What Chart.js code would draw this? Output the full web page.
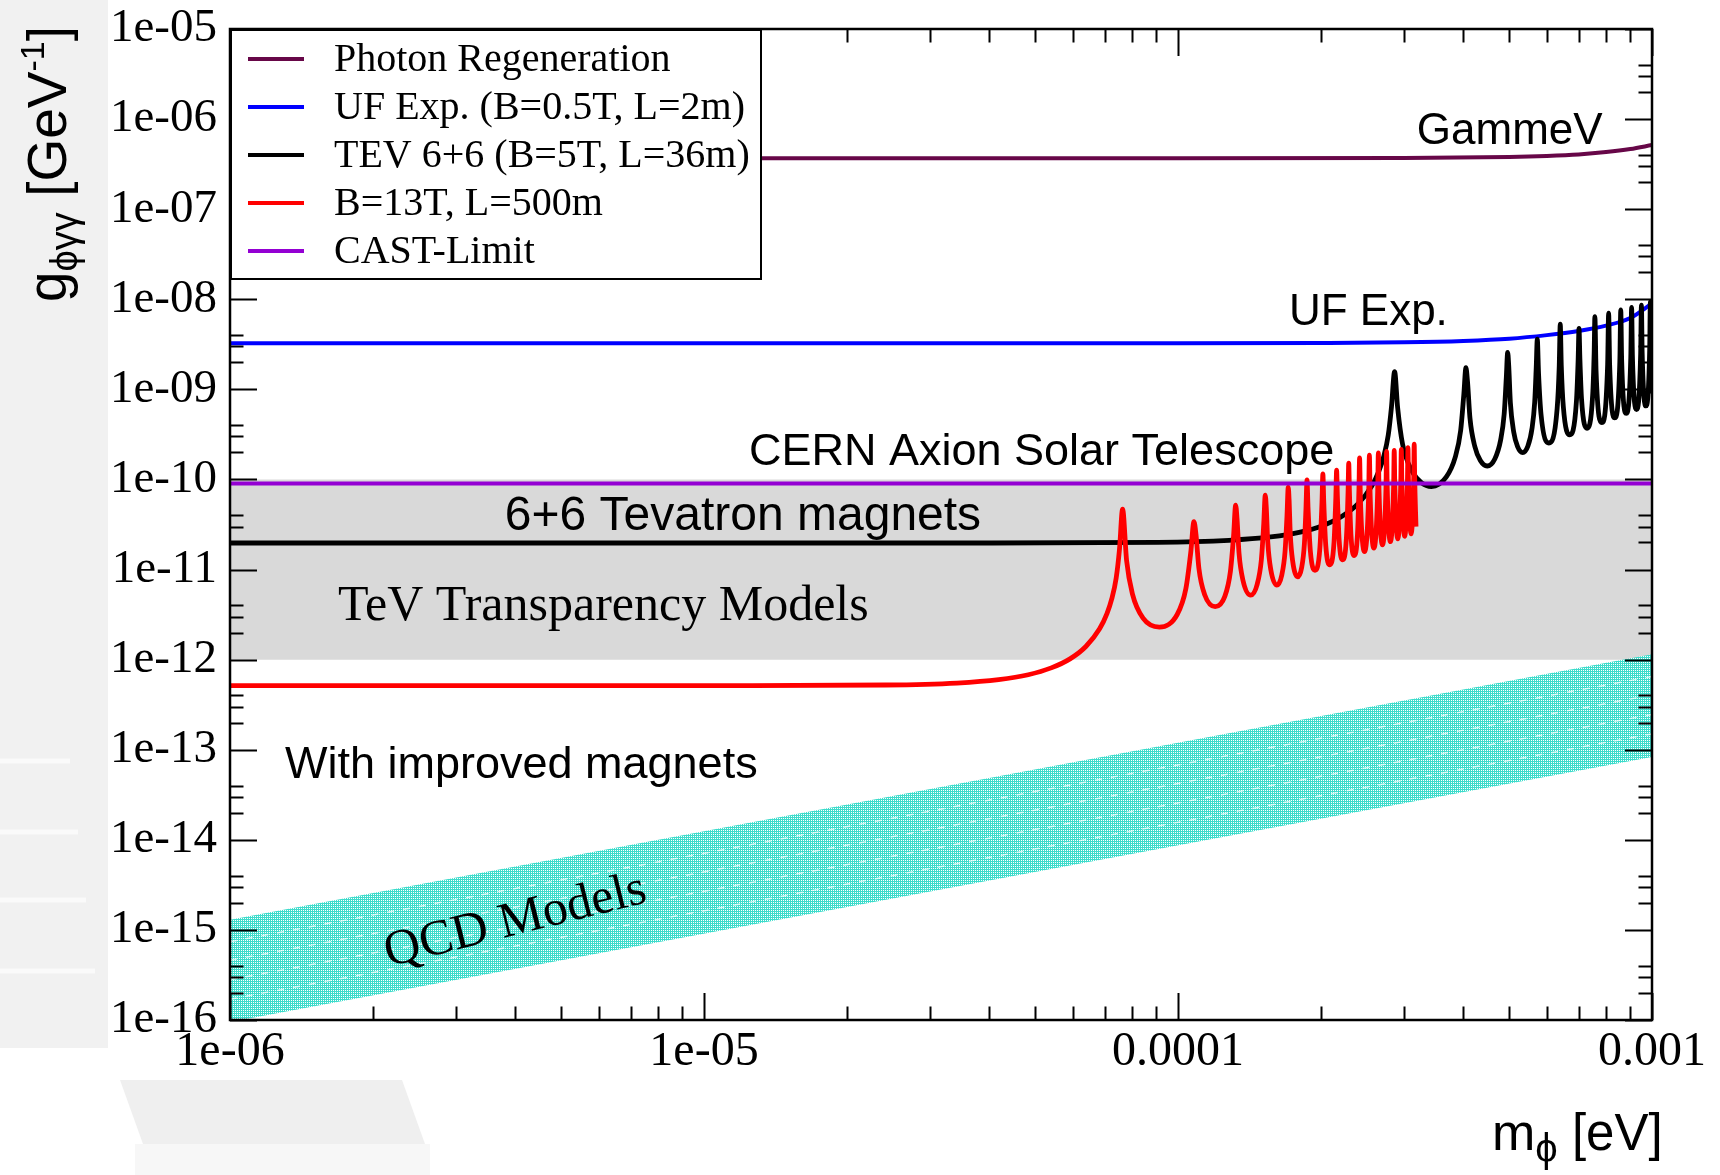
<!DOCTYPE html>
<html>
<head>
<meta charset="utf-8">
<style>
  html, body { margin: 0; padding: 0; background: #fff; }
  #wrap { width: 1720px; height: 1175px; }
</style>
<script src="https://cdn.jsdelivr.net/npm/chart.js@4.4.1/dist/chart.umd.min.js"></script>
</head>
<body>
<div id="wrap"><canvas id="chart" width="1720" height="1175"></canvas></div>
<script>
// Axis ranges and tick labels
const xRange = [1e-6, 1e-3];
const yRange = [1e-16, 1e-5];
const xTicks = [1e-6, 1e-5, 1e-4, 1e-3];
const xTickLabels = ['1e-06', '1e-05', '0.0001', '0.001'];
const xMinorSteps = [2, 3, 4, 5, 6, 7, 8, 9];
const yTicks = [1e-16, 1e-15, 1e-14, 1e-13, 1e-12, 1e-11, 1e-10, 1e-9, 1e-8, 1e-7, 1e-6, 1e-5];
const yTickLabels = ['1e-16', '1e-15', '1e-14', '1e-13', '1e-12', '1e-11', '1e-10', '1e-09', '1e-08', '1e-07', '1e-06', '1e-05'];
const yMinorSteps = [2, 3, 4];

// Photon Regeneration (GammeV)
const photonMass = [1e-6, 1e-4, 3e-4, 5e-4, 6e-4, 7e-4, 8e-4, 9e-4, 1e-3];
const photonCoupling = [3.67e-7, 3.67e-7, 3.7e-7, 3.8e-7, 3.9e-7, 4.05e-7, 4.3e-7, 4.65e-7, 5.15e-7];

// UF Exp. (B=0.5T, L=2m)
const ufMass = [1e-6, 1e-4, 2e-4, 3e-4, 4e-4, 5e-4, 6e-4, 7e-4, 8e-4, 9e-4, 1e-3];
const ufCoupling = [3.24e-9, 3.24e-9, 3.27e-9, 3.33e-9, 3.45e-9, 3.65e-9, 4.0e-9, 4.45e-9, 5.1e-9, 6.2e-9, 9.0e-9];

// TEV 6+6 (B=5T, L=36m)
const tevMass = [
  1e-6, 4.05e-5, 9.057e-5, 1.2808e-4, 1.5687e-4, 1.8114e-4, 2.0252e-4, 2.2185e-4, 2.3962e-4, 2.5616e-4,
  2.656e-4, 2.717e-4, 2.7768e-4, 2.8207e-4, 2.864e-4,
  2.9067e-4, 2.9763e-4, 3.1111e-4, 3.2655e-4, 3.4253e-4, 3.6788e-4, 3.8423e-4, 3.9477e-4, 4.0096e-4, 4.05e-4,
  4.0806e-4, 4.1305e-4, 4.2287e-4, 4.3435e-4, 4.491e-4, 4.6623e-4, 4.7923e-4, 4.8771e-4, 4.9275e-4, 4.9607e-4,
  4.9854e-4, 5.0263e-4, 5.1074e-4, 5.2027e-4, 5.3356e-4, 5.4717e-4, 5.5831e-4, 5.6559e-4, 5.6994e-4, 5.728e-4,
  5.7638e-4, 5.8345e-4, 6.0602e-4, 6.3074e-4, 6.3721e-4, 6.404e-4,
  6.436e-4, 6.4996e-4, 6.7055e-4, 6.9272e-4, 6.9862e-4, 7.015e-4,
  7.0446e-4, 7.1024e-4, 7.2932e-4, 7.4959e-4, 7.5504e-4, 7.577e-4,
  7.6205e-4, 7.8365e-4, 8.0599e-4, 8.1006e-4,
  8.141e-4, 8.3443e-4, 8.5536e-4, 8.592e-4,
  8.6301e-4, 8.8226e-4, 9.0205e-4, 9.057e-4,
  9.0929e-4, 9.2762e-4, 9.4641e-4, 9.499e-4,
  9.5334e-4, 9.7087e-4, 9.888e-4, 9.921e-4,
  9.9541e-4, 1e-3
];
const tevCoupling = [
  1.97e-11, 1.97e-11, 2.0e-11, 2.11e-11, 2.3e-11, 2.6e-11, 3.09e-11, 3.9e-11, 5.35e-11, 8.42e-11,
  1.25e-10, 1.8e-10, 3.1e-10, 6.38e-10, 1.57e-9,
  6.24e-10, 2.48e-10, 1.26e-10, 9.16e-11, 8.35e-11, 1.06e-10, 1.75e-10, 3.5e-10, 8.92e-10, 1.74e-9,
  1.23e-9, 4.77e-10, 2.32e-10, 1.62e-10, 1.41e-10, 1.7e-10, 2.72e-10, 5.35e-10, 1.35e-9, 2.58e-9,
  1.84e-9, 7.06e-10, 3.38e-10, 2.33e-10, 1.99e-10, 2.34e-10, 3.69e-10, 7.19e-10, 1.8e-9, 3.6e-9,
  1.48e-9, 5.21e-10, 2.54e-10, 6.09e-10, 1.8e-9, 5.3e-9,
  1.84e-9, 6.47e-10, 3.13e-10, 7.35e-10, 2.17e-9, 4.76e-9,
  2.2e-9, 7.72e-10, 3.7e-10, 8.6e-10, 2.53e-9, 6.4e-9,
  1.62e-9, 4.27e-10, 1.82e-9, 7.0e-9,
  1.85e-9, 4.84e-10, 2.04e-9, 7.6e-9,
  2.08e-9, 5.41e-10, 2.27e-9, 8.1e-9,
  2.31e-9, 5.98e-10, 2.5e-9, 8.6e-9,
  2.54e-9, 6.55e-10, 2.73e-9, 9.4e-9,
  2.77e-9, 9e-10
];

// B=13T, L=500m
const bigMass = [
  1e-6, 1.08e-5, 2.416e-5, 3.417e-5, 4.185e-5, 4.832e-5, 5.402e-5, 5.918e-5, 6.392e-5, 6.833e-5,
  7.085e-5, 7.248e-5, 7.407e-5, 7.525e-5, 7.64e-5,
  7.791e-5, 8.013e-5, 8.438e-5, 9.137e-5, 9.961e-5, 1.0391e-4, 1.0641e-4, 1.0805e-4,
  1.0912e-4, 1.1071e-4, 1.1384e-4, 1.198e-4, 1.2554e-4, 1.2898e-4, 1.31e-4, 1.3233e-4,
  1.3321e-4, 1.3452e-4, 1.3709e-4, 1.4233e-4, 1.4696e-4, 1.4991e-4, 1.5165e-4, 1.528e-4,
  1.5356e-4, 1.5469e-4, 1.5695e-4, 1.6166e-4, 1.6563e-4, 1.6825e-4, 1.6981e-4, 1.7084e-4,
  1.7152e-4, 1.7253e-4, 1.7455e-4, 1.7888e-4, 1.824e-4, 1.8479e-4, 1.862e-4, 1.8714e-4,
  1.8807e-4, 1.9024e-4, 1.9455e-4, 1.9923e-4, 2.0127e-4, 2.0214e-4,
  2.03e-4, 2.05e-4, 2.0905e-4, 2.1337e-4, 2.1528e-4, 2.1609e-4,
  2.169e-4, 2.1878e-4, 2.2259e-4, 2.2664e-4, 2.2844e-4, 2.292e-4,
  2.2996e-4, 2.3174e-4, 2.3535e-4, 2.3917e-4, 2.4087e-4, 2.416e-4,
  2.4256e-4, 2.4745e-4, 2.5246e-4, 2.5339e-4,
  2.5431e-4, 2.5899e-4, 2.6377e-4, 2.6466e-4,
  2.6554e-4, 2.7003e-4, 2.7461e-4, 2.7547e-4,
  2.7631e-4, 2.8063e-4, 2.8505e-4, 2.8586e-4,
  2.8668e-4, 2.9085e-4, 2.951e-4, 2.959e-4,
  2.9668e-4, 3.0073e-4, 3.0484e-4, 3.056e-4,
  3.0636e-4, 3.1028e-4, 3.1426e-4, 3.15e-4,
  3.1575e-4, 3.1777e-4
];
const bigCoupling = [
  5.15e-13, 5.15e-13, 5.23e-13, 5.5e-13, 6.0e-13, 6.8e-13, 8.1e-13, 1.02e-12, 1.4e-12, 2.2e-12,
  3.27e-12, 4.72e-12, 8.1e-12, 1.67e-11, 4.67e-11,
  1.25e-11, 5.37e-12, 2.89e-12, 2.3e-12, 3.17e-12, 6.15e-12, 1.56e-11, 3.4e-11,
  2.46e-11, 1.02e-11, 5.25e-12, 3.87e-12, 5.03e-12, 9.47e-12, 2.37e-11, 5.2e-11,
  3.66e-11, 1.51e-11, 7.62e-12, 5.2e-12, 6.9e-12, 1.28e-11, 3.17e-11, 6.7e-11,
  4.86e-11, 2.0e-11, 9.98e-12, 6.7e-12, 8.76e-12, 1.61e-11, 3.98e-11, 8.2e-11,
  6.07e-11, 2.49e-11, 1.24e-11, 8.3e-12, 1.06e-11, 1.94e-11, 4.78e-11, 9.86e-11,
  4.88e-11, 1.59e-11, 9.8e-12, 1.74e-11, 5.59e-11, 1.15e-10,
  5.68e-11, 1.85e-11, 1.13e-11, 2.0e-11, 6.39e-11, 1.27e-10,
  6.49e-11, 2.1e-11, 1.28e-11, 2.26e-11, 7.19e-11, 1.52e-10,
  7.29e-11, 2.36e-11, 1.43e-11, 2.51e-11, 8.0e-11, 1.74e-10,
  6.11e-11, 1.58e-11, 6.62e-11, 1.86e-10,
  6.72e-11, 1.73e-11, 7.23e-11, 1.97e-10,
  7.33e-11, 1.88e-11, 7.83e-11, 2.05e-10,
  7.93e-11, 2.04e-11, 8.44e-11, 2.1e-10,
  8.54e-11, 2.19e-11, 9.05e-11, 2.15e-10,
  9.14e-11, 2.34e-11, 9.65e-11, 2.25e-10,
  9.75e-11, 2.49e-11, 1.03e-10, 2.46e-10,
  1.04e-10, 3.0e-11
];

// CAST-Limit
const castMass = [1e-6, 1e-3];
const castCoupling = [9e-11, 9e-11];

// TeV transparency band and QCD models band
const bandMass = [1e-6, 1e-3];
const transparencyLow = [1e-12, 1e-12];
const transparencyHigh = [1e-10, 1e-10];
const qcdLow = [9.5e-17, 8.3e-14];
const qcdHigh = [1.3e-15, 1.15e-12];
// faint white hatching streaks inside the QCD band (start, end)
const qcdStreaks = [[1.7e-16, 1.5e-13], [2.8e-16, 2.46e-13], [4.6e-16, 4.05e-13], [7.4e-16, 6.5e-13]];

const SANS = '"Liberation Sans", Arial, sans-serif';
const SERIF = '"Liberation Serif", "Times New Roman", serif';

// text placed on the plot, anchored in data coordinates
const notes = [
  { text: 'GammeV', m: 3.19e-4, g: 7.26e-7, font: '44px ' + SANS },
  { text: 'UF Exp.', m: 1.714e-4, g: 7.1e-9, font: '44px ' + SANS },
  { text: 'CERN Axion Solar Telescope', m: 1.244e-5, g: 1.97e-10, font: '45px ' + SANS },
  { text: '6+6 Tevatron magnets', m: 3.8e-6, g: 3.86e-11, font: '48px ' + SANS },
  { text: 'TeV Transparency Models', m: 1.69e-6, g: 3.88e-12, font: '50px ' + SERIF },
  { text: 'With improved magnets', m: 1.306e-6, g: 6.67e-14, font: '45px ' + SANS },
  { text: 'QCD Models', m: 4.0e-6, g: 1.24e-15, font: '50px ' + SERIF, align: 'center', angle: -14 }
];

const pts = (xs, ys) => xs.map((m, i) => ({ x: m, y: ys[i] }));

const lineSet = (label, color, xs, ys, order, width) => ({
  label,
  data: pts(xs, ys),
  borderColor: color,
  backgroundColor: color,
  borderWidth: width || 4,
  borderJoinStyle: 'round',
  cubicInterpolationMode: 'monotone',
  pointRadius: 0,
  fill: false,
  order
});

const canvas = document.getElementById('chart');
const ctx = canvas.getContext('2d');

// dithered turquoise like the original print
const tile = document.createElement('canvas');
tile.width = 2; tile.height = 2;
const tctx = tile.getContext('2d');
tctx.fillStyle = '#3ddccb'; tctx.fillRect(0, 0, 2, 2);
tctx.fillStyle = '#ffffff'; tctx.fillRect(1, 0, 1, 1);
const qcdFill = ctx.createPattern(tile, 'repeat');

const datasets = [
  lineSet('Photon Regeneration', '#670748', photonMass, photonCoupling, 4),
  lineSet('UF Exp. (B=0.5T, L=2m)', '#0000ff', ufMass, ufCoupling, 3),
  lineSet('TEV 6+6 (B=5T, L=36m)', '#000000', tevMass, tevCoupling, 2, 4.8),
  lineSet('B=13T, L=500m', '#ff0000', bigMass, bigCoupling, 1, 4.8),
  lineSet('CAST-Limit', '#9400d3', castMass, castCoupling, 0),
  { data: pts(bandMass, transparencyLow), borderWidth: 0, pointRadius: 0, fill: false, order: 9 },
  { data: pts(bandMass, transparencyHigh), borderWidth: 0, pointRadius: 0, fill: 5, backgroundColor: '#d9d9d9', order: 8 },
  { data: pts(bandMass, qcdLow), borderWidth: 0, pointRadius: 0, fill: false, order: 7 },
  { data: pts(bandMass, qcdHigh), borderWidth: 0, pointRadius: 0, fill: 7, backgroundColor: qcdFill, order: 6 }
];
qcdStreaks.forEach(s => datasets.push({
  data: pts(bandMass, s),
  borderColor: 'rgba(255,255,255,0.7)',
  borderWidth: 1.5,
  borderDash: [7, 9],
  pointRadius: 0,
  fill: false,
  order: 5
}));

const backdrop = {
  id: 'backdrop',
  beforeDraw(chart) {
    const c = chart.ctx;
    c.save();
    c.fillStyle = '#ffffff';
    c.fillRect(0, 0, chart.width, chart.height);
    // faint slide background behind the y title
    c.fillStyle = '#f1f1f1';
    c.fillRect(0, 0, 108, 1048);
    c.strokeStyle = '#fafafa';
    c.lineWidth = 5;
    c.beginPath();
    [[761, 70], [832, 78], [900, 86], [971, 95]].forEach(([yy, len]) => {
      c.moveTo(0, yy); c.lineTo(len, yy);
    });
    c.stroke();
    c.fillStyle = '#efefef';
    c.beginPath();
    c.moveTo(120, 1080); c.lineTo(402, 1080); c.lineTo(425, 1144); c.lineTo(143, 1144);
    c.closePath();
    c.fill();
    c.fillStyle = '#f7f7f7';
    c.fillRect(135, 1144, 295, 31);
    c.restore();
  }
};

const overlay = {
  id: 'overlay',
  afterDatasetsDraw(chart) {
    const c = chart.ctx;
    const a = chart.chartArea;
    const x = chart.scales.x;
    const y = chart.scales.y;
    c.save();

    // annotations
    c.fillStyle = '#000';
    notes.forEach(n => {
      const px = x.getPixelForValue(n.m);
      const py = y.getPixelForValue(n.g);
      c.save();
      c.font = n.font;
      c.textAlign = n.align || 'left';
      c.textBaseline = 'middle';
      c.translate(px, py);
      if (n.angle) c.rotate(n.angle * Math.PI / 180);
      c.fillText(n.text, 0, 0);
      c.restore();
    });

    // frame and inward ticks on all four sides
    c.strokeStyle = '#000';
    c.lineWidth = 2;
    c.beginPath();
    const major = 27, minor = 13.5;
    const xTick = (v, len) => {
      const px = Math.round(x.getPixelForValue(v)) + 0.5;
      c.moveTo(px, a.bottom); c.lineTo(px, a.bottom - len);
      c.moveTo(px, a.top); c.lineTo(px, a.top + len);
    };
    const yTick = (v, len) => {
      const py = Math.round(y.getPixelForValue(v)) + 0.5;
      c.moveTo(a.left, py); c.lineTo(a.left + len, py);
      c.moveTo(a.right, py); c.lineTo(a.right - len, py);
    };
    xTicks.forEach((d, i) => {
      xTick(d, major);
      if (i < xTicks.length - 1) xMinorSteps.forEach(s => xTick(d * s, minor));
    });
    yTicks.forEach((d, i) => {
      yTick(d, major);
      if (i < yTicks.length - 1) yMinorSteps.forEach(s => yTick(d * s, minor));
    });
    c.stroke();
    c.lineWidth = 2.5;
    c.strokeRect(a.left, a.top, a.right - a.left, a.bottom - a.top);

    // legend box in the upper-left corner
    const lx = a.left, ly = a.top, lw = 531, lh = 250;
    c.fillStyle = '#fff';
    c.fillRect(lx, ly, lw, lh);
    c.lineWidth = 2;
    c.strokeStyle = '#000';
    c.strokeRect(lx + 1, ly + 1, lw - 1, lh - 1);
    c.font = '40px ' + SERIF;
    c.textAlign = 'left';
    c.textBaseline = 'middle';
    chart.data.datasets.filter(ds => ds.label).forEach((ds, i) => {
      const yy = ly + 30 + i * 48;
      c.strokeStyle = ds.borderColor;
      c.lineWidth = 4;
      c.beginPath();
      c.moveTo(lx + 18, yy); c.lineTo(lx + 74, yy);
      c.stroke();
      c.fillStyle = '#000';
      c.fillText(ds.label, lx + 104, yy + 1);
    });
    c.restore();
  },
  afterDraw(chart) {
    const c = chart.ctx;
    c.save();
    c.fillStyle = '#000';
    c.textAlign = 'left';
    c.textBaseline = 'alphabetic';

    // y title: g_ϕγγ [GeV^-1], rotated
    c.translate(66, 302);
    c.rotate(-Math.PI / 2);
    let cx = 0;
    const part = (t, size, dy) => {
      c.font = size + 'px ' + SANS;
      c.fillText(t, cx, dy);
      cx += c.measureText(t).width;
    };
    part('g', 55, 0);
    part('ϕγγ', 38, 11);
    part(' [GeV', 55, 0);
    part('-1', 34, -22);
    part(']', 55, 0);
    c.setTransform(1, 0, 0, 1, 0, 0);

    // x title: m_ϕ [eV]
    cx = 1492;
    const xpart = (t, size, yy) => {
      c.font = size + 'px ' + SANS;
      c.fillText(t, cx, yy);
      cx += c.measureText(t).width;
    };
    xpart('m', 52, 1150);
    xpart('ϕ', 40, 1162);
    xpart(' [eV]', 51, 1150);
    c.restore();
  }
};

new Chart(ctx, {
  type: 'line',
  data: { datasets },
  options: {
    responsive: false,
    animation: false,
    events: [],
    layout: { padding: { left: 0, top: 29, right: 68, bottom: 0 } },
    plugins: {
      legend: { display: false },
      tooltip: { enabled: false },
      title: { display: false }
    },
    scales: {
      x: {
        type: 'logarithmic',
        min: xRange[0],
        max: xRange[1],
        afterBuildTicks: scale => { scale.ticks = xTicks.map(v => ({ value: v })); },
        afterFit: scale => {
          scale.height = 155;
          scale.paddingLeft = 0;
          scale.paddingRight = 0;
        },
        grid: { display: false, drawTicks: false },
        border: { display: false },
        ticks: {
          autoSkip: false,
          maxRotation: 0,
          minRotation: 0,
          padding: 4,
          color: '#000',
          font: { family: 'Liberation Serif', size: 48 },
          callback: (value, index) => xTickLabels[index]
        }
      },
      y: {
        type: 'logarithmic',
        min: yRange[0],
        max: yRange[1],
        afterBuildTicks: scale => { scale.ticks = yTicks.map(v => ({ value: v })); },
        afterFit: scale => {
          scale.width = 230;
          scale.paddingTop = 0;
          scale.paddingBottom = 0;
        },
        grid: { display: false, drawTicks: false },
        border: { display: false },
        ticks: {
          autoSkip: false,
          padding: 13,
          color: '#000',
          font: { family: 'Liberation Serif', size: 47 },
          callback: (value, index) => yTickLabels[index]
        }
      }
    }
  },
  plugins: [backdrop, overlay]
});
</script>
</body>
</html>
